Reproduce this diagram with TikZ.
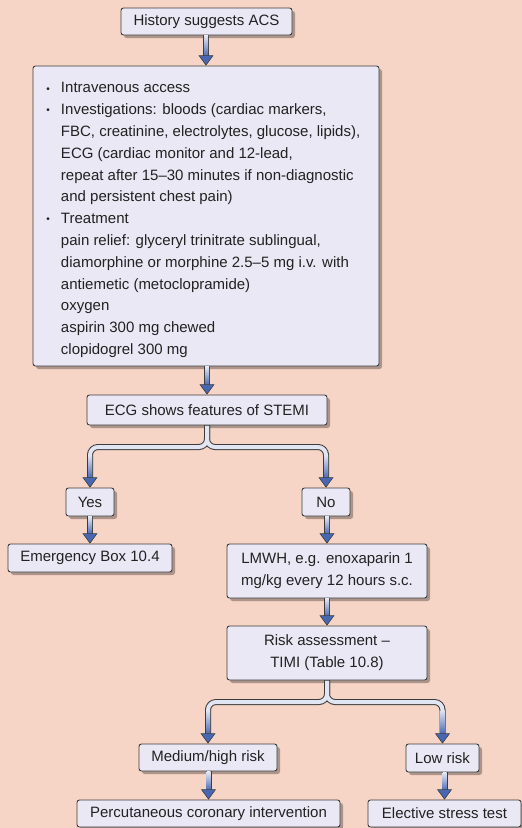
\documentclass[tikz,border=0pt]{standalone}
\usepackage{fontspec}
\setmainfont{Liberation Sans}
\usetikzlibrary{calc,shadows}
\definecolor{bg}{HTML}{F7D5C6}
\definecolor{boxfill}{HTML}{E9E8F4}
\definecolor{boxline}{HTML}{3C3C3C}
\definecolor{shaftlight}{HTML}{E2E6F3}
\definecolor{arrowblue}{HTML}{4767B2}
\definecolor{txt}{HTML}{222222}
\newcommand\flowbul{\leavevmode\llap{\raisebox{0.8pt}{\fontsize{10}{10}\selectfont\textbullet}\hspace{11pt}}}
\tikzset{
 fbox/.style={draw=boxline, fill=boxfill, line width=0.9pt, rounded corners=2.5pt, text=txt,
   font=\fontsize{15}{21.8}\selectfont, inner sep=0pt, align=center,
   drop shadow={shadow xshift=3pt, shadow yshift=-3pt, opacity=0.3, fill=black}},
 shaftout/.style={line width=6pt, draw=boxline},
 shaftin/.style={line width=4pt, draw=shaftlight},
 ahead/.style={fill=arrowblue, draw=boxline, line width=0.6pt, line join=miter},
}
\newcommand\flowdown[2]{%
 \draw[shaftout] let \p1=(#1.south), \p2=(#2.north) in (\x2,\y1) -- ({\x2},{\y2+9pt});
 \shade[top color=shaftlight, bottom color=arrowblue] let \p1=(#1.south), \p2=(#2.north) in
   ({\x2-2pt},{\y1-0.45pt}) rectangle ({\x2+2pt},{\y2+9pt});
 \filldraw[ahead] let \p2=(#2.north) in ({\x2-7pt},{\y2+10pt}) -- ({\x2+7pt},{\y2+10pt}) -- ({\x2},{\y2+0.5pt}) -- cycle;
}
\newcommand\flowfork[4]{%
 \foreach \t in {#2,#3}{%
  \draw[shaftout, rounded corners=8pt] let \p1=(#1.south), \p2=(\t.north), \p3=(#4) in
    (\x1,\y1) -- (\x1,\y3) -- (\x2,\y3) -- ({\x2},{\y2+9pt});}
 \foreach \t in {#2,#3}{%
  \draw[shaftin, rounded corners=8pt] let \p1=(#1.south), \p2=(\t.north), \p3=(#4) in
    ({\x1},{\y1-0.45pt}) -- (\x1,\y3) -- (\x2,\y3) -- ({\x2},{\y2+9pt});}
 \foreach \t in {#2,#3}{%
  \shade[top color=shaftlight, bottom color=arrowblue] let \p2=(\t.north), \p3=(#4) in
    ({\x2-2pt},{\y3-8pt}) rectangle ({\x2+2pt},{\y2+9pt});
  \filldraw[ahead] let \p2=(\t.north) in ({\x2-7pt},{\y2+10pt}) -- ({\x2+7pt},{\y2+10pt}) -- ({\x2},{\y2+0.5pt}) -- cycle;}
}
\begin{document}
\begin{tikzpicture}[x=1pt,y=-1pt]
\useasboundingbox (0,0) rectangle (522,828);
\fill[bg] (0,0) rectangle (522,828);

\node[fbox, minimum width=171pt, minimum height=27pt] (hist) at (206.5,21.5) {History suggests ACS};
\node[fbox, minimum width=346pt, minimum height=300pt] (care) at (206,216) {\parbox[c]{346pt}{\vspace*{8pt}\raggedright\leftskip=28pt\relax\fontsize{15}{21.8}\selectfont
\flowbul Intravenous access\\
\flowbul Investigations: bloods (cardiac markers,\\
FBC, creatinine, electrolytes, glucose, lipids),\\
ECG (cardiac monitor and 12-lead,\\
repeat after 15–30 minutes if non-diagnostic\\
and persistent chest pain)\\
\flowbul Treatment\\
pain relief: glyceryl trinitrate sublingual,\\
diamorphine or morphine 2.5–5 mg i.v. with\\
antiemetic (metoclopramide)\\
oxygen\\
aspirin 300 mg chewed\\
clopidogrel 300 mg\par}};
\node[fbox, minimum width=240pt, minimum height=30pt] (ecg) at (207,410) {ECG shows features of STEMI};
\node[fbox, minimum width=48pt, minimum height=28pt] (yes) at (90,502) {Yes};
\node[fbox, minimum width=48pt, minimum height=28pt] (no) at (326,502) {No};
\node[fbox, minimum width=164pt, minimum height=28pt] (emerg) at (90,558) {Emergency Box 10.4};
\node[fbox, minimum width=200pt, minimum height=54pt] (lmwh) at (327,571) {LMWH, e.g. enoxaparin 1\\mg/kg every 12 hours s.c.};
\node[fbox, minimum width=200pt, minimum height=54pt] (risk) at (327,653) {Risk assessment –\\TIMI (Table 10.8)};
\node[fbox, minimum width=138pt, minimum height=27pt] (med) at (208,757.5) {Medium/high risk};
\node[fbox, minimum width=73pt, minimum height=28pt] (low) at (442.5,758) {Low risk};
\node[fbox, minimum width=263pt, minimum height=27pt] (pci) at (208.5,813.5) {Percutaneous coronary intervention};
\node[fbox, minimum width=153pt, minimum height=27pt] (est) at (444.5,813.5) {Elective stress test};

\coordinate (fk1) at (207,447);
\coordinate (fk2) at (326,702);

\flowdown{hist}{care}
\flowdown{care}{ecg}
\flowfork{ecg}{yes}{no}{fk1}
\flowdown{yes}{emerg}
\flowdown{no}{lmwh}
\flowdown{lmwh}{risk}
\flowfork{risk}{med}{low}{fk2}
\flowdown{med}{pci}
\flowdown{low}{est}
\end{tikzpicture}
\end{document}
